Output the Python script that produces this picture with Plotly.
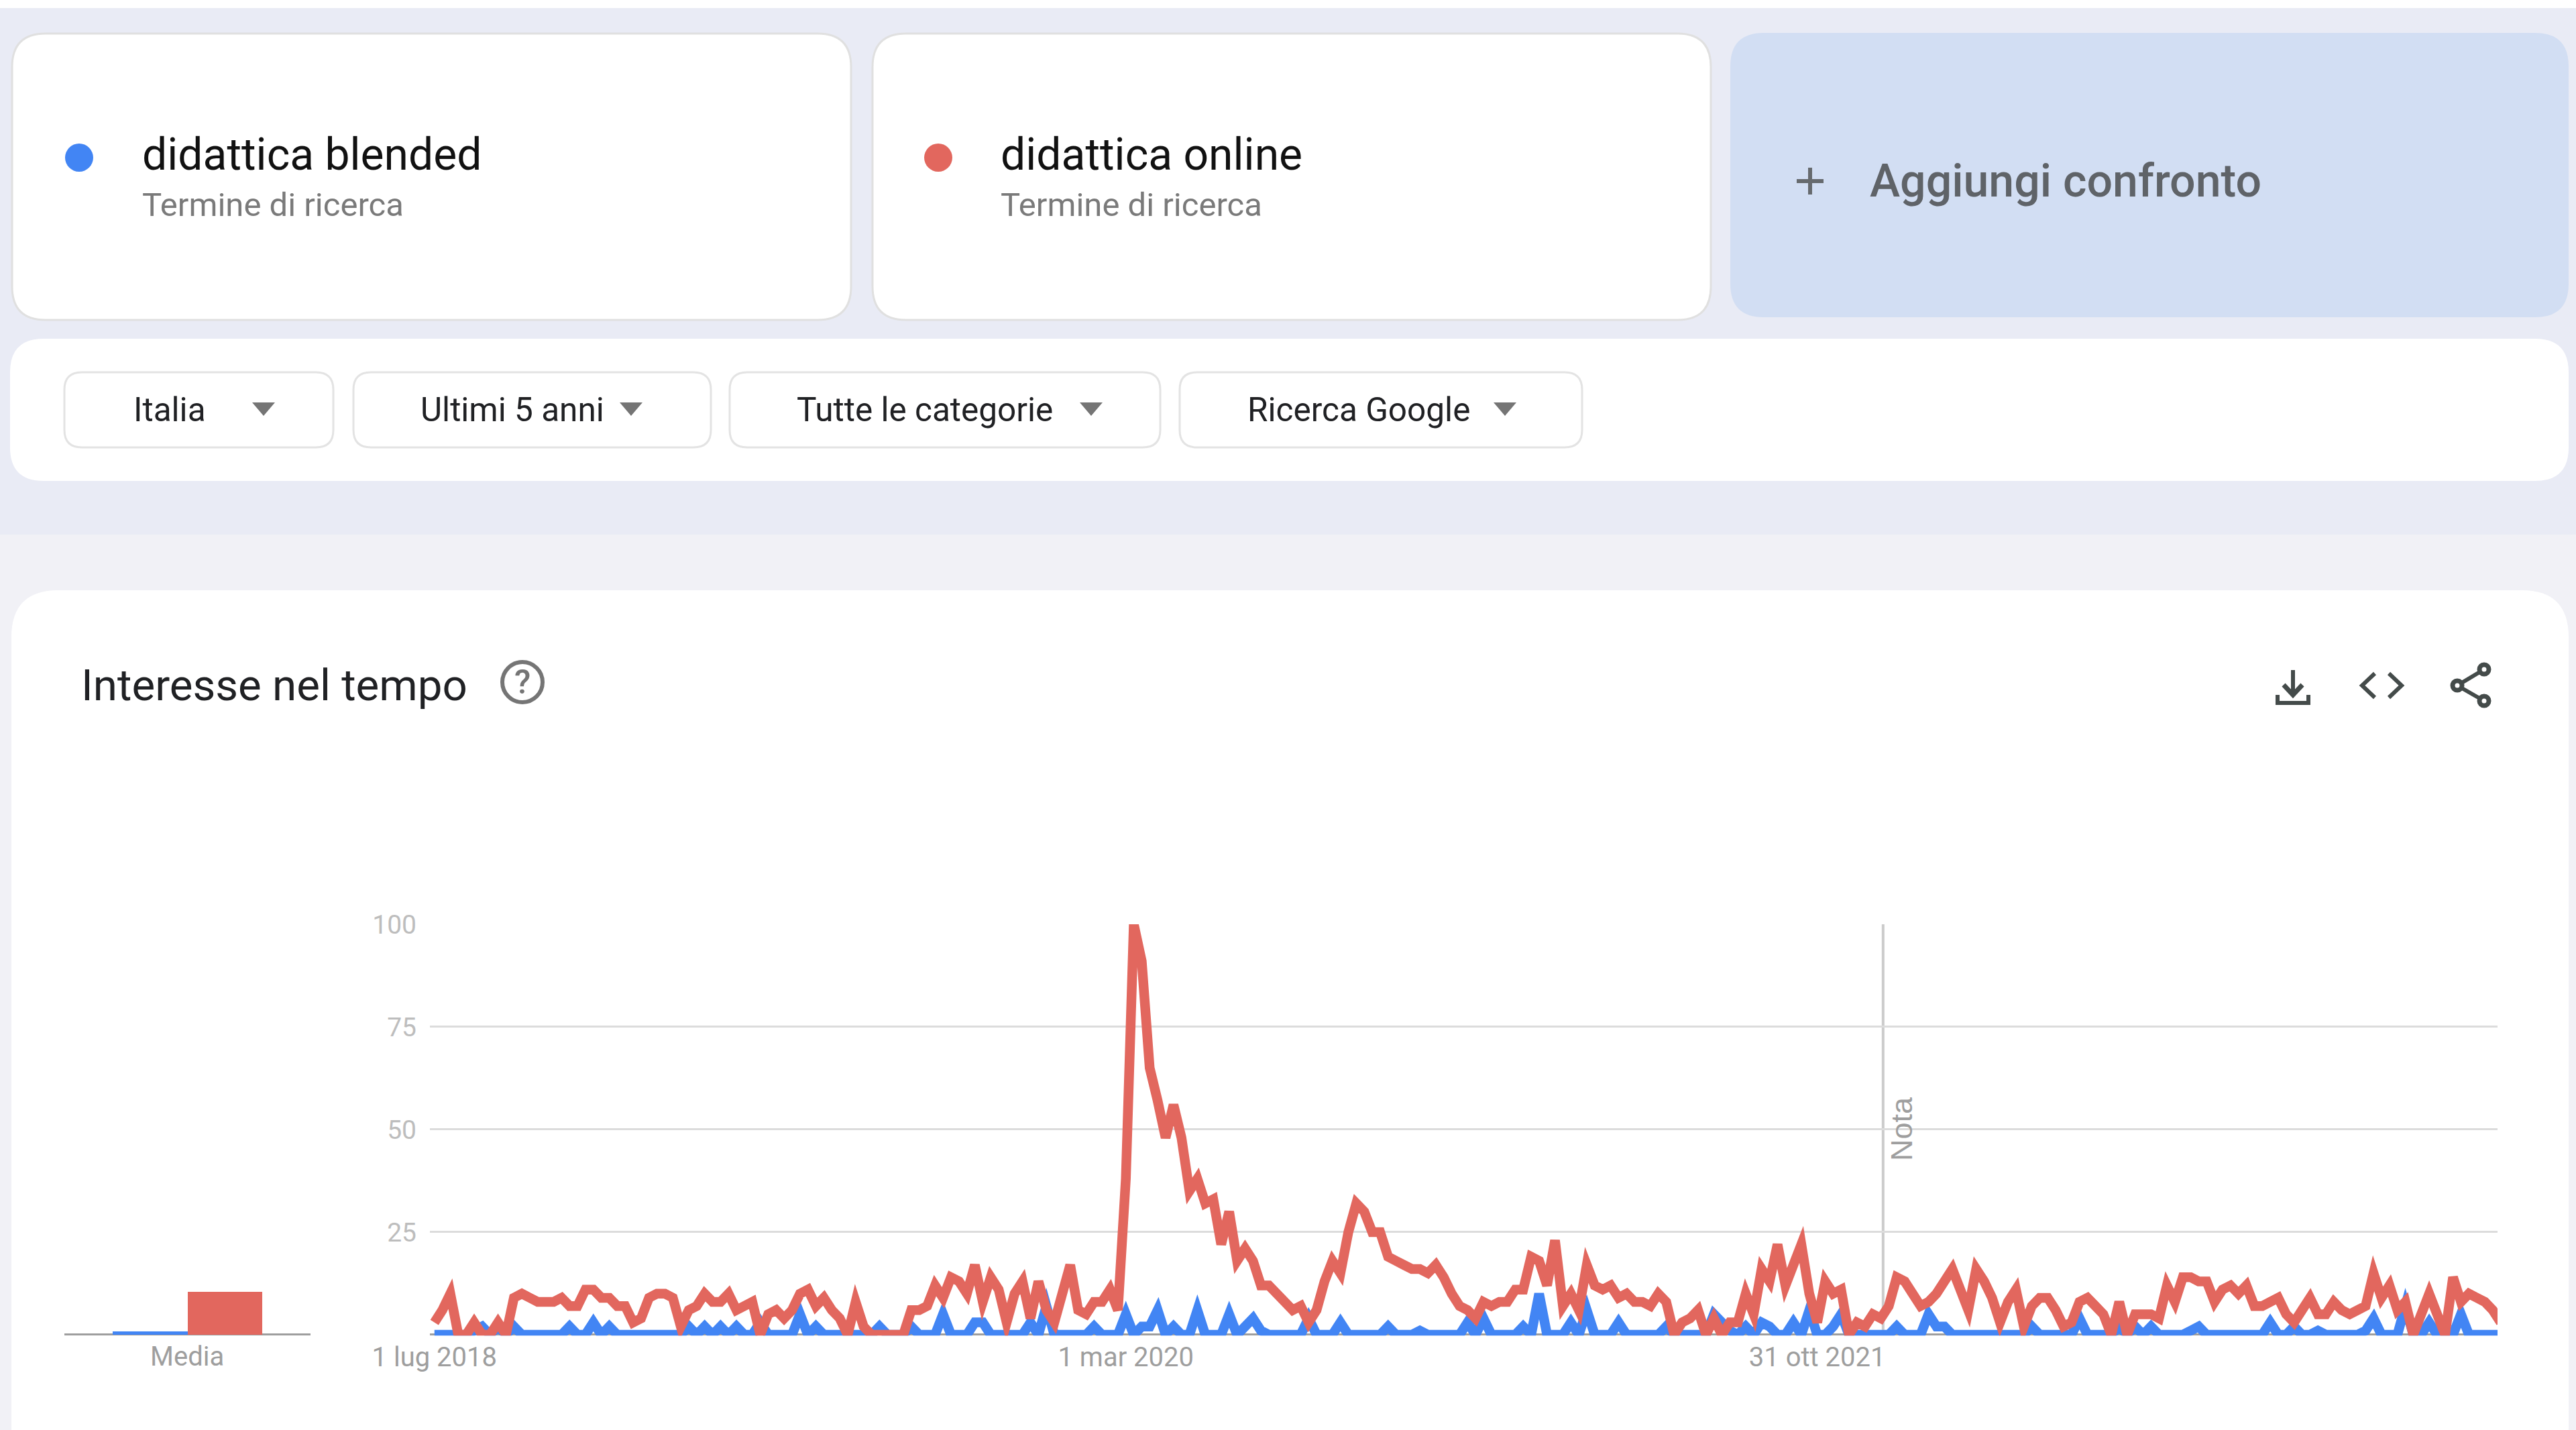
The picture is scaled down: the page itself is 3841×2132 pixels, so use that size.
import pandas as pd
import plotly.graph_objects as go

W, H = 3841, 2132

weeks = pd.date_range("2018-07-01", periods=261, freq="7D")

online = [
    3,6,10,0,0,3,0,0,3,0,
    9,10,9,8,8,8,9,7,7,11,
    11,9,9,7,7,3,4,9,10,10,
    9,2,6,7,10,8,8,10,6,7,
    8,0,5,6,4,6,10,11,7,9,
    6,4,0,8,2,0,0,0,0,0,
    6,6,7,12,9,14,13,10,17,8,
    14,11,3,10,13,4,13,6,3,10,
    17,6,5,8,8,11,6,38,100,91,
    65,57,48,56,48,35,38,32,33,22,
    30,18,21,18,12,12,10,8,6,7,
    3,6,13,18,15,25,32,30,25,25,
    19,18,17,16,16,15,17,14,10,7,
    6,4,8,7,8,8,11,11,19,18,
    12,23,7,10,6,17,12,11,12,9,
    10,8,8,7,10,8,0,3,4,6,
    0,4,0,3,3,10,5,16,13,22,
    12,17,22,10,3,13,10,11,0,3,
    2,5,4,7,14,13,10,7,8,10,
    13,16,11,6,16,13,9,3,8,11,
    2,7,9,9,6,2,3,8,9,7,
    5,0,8,0,5,5,5,4,12,8,
    14,14,13,13,8,11,12,10,12,7,
    7,8,9,5,3,6,9,5,5,8,
    6,5,6,7,15,9,12,6,8,0,
    5,10,5,0,14,8,10,9,8,6,
    3,
]
blended = [
    0,0,0,0,0,1,2,0,2,0,
    2,0,0,0,0,0,0,2,0,0,
    3,0,2,0,0,0,0,0,0,0,
    0,0,2,0,2,0,2,0,2,0,
    0,3,0,0,0,0,5,0,2,0,
    0,0,0,0,0,0,2,0,0,0,
    2,0,0,0,5,0,0,0,3,3,
    0,0,0,0,0,3,0,7,0,0,
    0,0,0,2,0,0,0,5,0,2,
    2,6,0,2,0,0,6,0,0,0,
    5,0,2,4,1,0,0,0,0,0,
    4,0,0,0,3,0,0,0,0,0,
    2,0,0,0,1,0,0,0,0,0,
    3,0,4,0,0,0,0,2,0,10,
    0,0,0,3,0,6,0,0,0,3,
    0,0,0,0,0,2,0,0,0,0,
    0,5,3,1,0,2,0,3,2,0,
    0,3,0,6,0,0,2,5,0,0,
    0,0,0,0,2,0,0,0,5,2,
    2,0,0,0,0,0,0,0,0,0,
    0,2,0,0,0,0,0,4,0,0,
    0,0,2,0,2,0,2,0,0,0,
    0,1,2,0,0,0,0,0,0,0,
    0,3,0,0,2,0,0,1,0,0,
    0,0,0,1,4,0,0,0,7,0,
    0,3,0,0,0,5,0,0,0,0,
    0,
]
mean_terms = ["didattica blended", "didattica online"]
mean_values = [0.8, 10.5]

y_ticks = [25, 50, 75, 100]
x_tick_dates = ["2018-07-01", "2020-03-01", "2021-10-31"]
x_tick_labels = ["1 lug 2018", "1 mar 2020", "31 ott 2021"]
note_date = "2021-12-28"
filter_labels = ["Italia", "Ultimi 5 anni", "Tutte le categorie", "Ricerca Google"]

BLUE = "#4285f4"
RED = "#e2675e"
LILAC = "#e9ebf5"
PALE = "#f1f1f6"
FONT = "Roboto"


def px(x):
    return x / W


def py(y):
    return 1 - y / H


def rrect(x0, y0, x1, y1, r, fill, line=None, lw=0, square_bottom=False):
    a, b, c, d = px(x0), py(y0), px(x1), py(y1)
    rx, ry = r / W, r / H
    if square_bottom:
        p = (f"M{a},{d} L{a},{b-ry} Q{a},{b} {a+rx},{b} L{c-rx},{b} Q{c},{b} {c},{b-ry} L{c},{d} Z")
    else:
        p = (f"M{a},{d+ry} L{a},{b-ry} Q{a},{b} {a+rx},{b} L{c-rx},{b} Q{c},{b} {c},{b-ry} "
             f"L{c},{d+ry} Q{c},{d} {c-rx},{d} L{a+rx},{d} Q{a},{d} {a},{d+ry} Z")
    return dict(type="path", xref="paper", yref="paper", path=p, fillcolor=fill,
                line=dict(color=line or fill, width=lw), layer="below")


def rect(x0, y0, x1, y1, fill):
    return dict(type="rect", xref="paper", yref="paper", x0=px(x0), x1=px(x1), y0=py(y0), y1=py(y1),
                fillcolor=fill, line=dict(width=0), layer="below")


def circle(cx, cy, r, fill, line=None, lw=0):
    return dict(type="circle", xref="paper", yref="paper", x0=px(cx - r), x1=px(cx + r),
                y0=py(cy + r), y1=py(cy - r), fillcolor=fill,
                line=dict(color=line or fill, width=lw), layer="above")


def poly(points, color, lw=0, fill=None, closed=False):
    s = "M" + " L".join(f"{px(x)},{py(y)}" for x, y in points) + (" Z" if closed else "")
    return dict(type="path", xref="paper", yref="paper", path=s,
                fillcolor=fill or "rgba(0,0,0,0)",
                line=dict(color=color, width=lw), layer="above")


def text(x, y, s, size, color, anchor="left", weight=400, family=FONT, angle=0):
    return dict(xref="paper", yref="paper", x=px(x), y=py(y), text=s, showarrow=False,
                xanchor=anchor, yanchor="middle", textangle=angle,
                font=dict(family=family, size=size, color=color, weight=weight))


ICON = "#444b4a"
shapes = [
    rect(0, 12, W, 797, LILAC),
    rect(0, 797, W, H, PALE),
    rrect(18, 50, 1269, 477, 50, "white", "#e0e0e0", 3),
    rrect(1301, 50, 2551, 477, 50, "white", "#e0e0e0", 3),
    rrect(2580, 49, 3830, 473, 50, "#d2def3"),
    rrect(15, 505, 3830, 717, 50, "white"),
    rrect(17, 880, 3830, H + 60, 70, "white", square_bottom=True),
    rrect(96, 555, 497, 667, 26, "white", "#e3e3e3", 3),
    rrect(527, 555, 1060, 667, 26, "white", "#e3e3e3", 3),
    rrect(1088, 555, 1730, 667, 26, "white", "#e3e3e3", 3),
    rrect(1759, 555, 2359, 667, 26, "white", "#e3e3e3", 3),
    circle(118, 235, 21, BLUE),
    circle(1399, 235, 21, RED),
    circle(779, 1017, 30, "rgba(0,0,0,0)", "#757575", 6),
    # plus sign
    poly([(2679, 270), (2719, 270)], "#666a6e", 6),
    poly([(2699, 250), (2699, 290)], "#666a6e", 6),
    # download icon
    poly([(3419, 999), (3419, 1035)], ICON, 6),
    poly([(3405, 1021), (3419, 1036), (3433, 1021)], ICON, 7),
    poly([(3396, 1036), (3396, 1048), (3442, 1048), (3442, 1036)], ICON, 6),
    # code icon
    poly([(3541, 1004), (3522, 1022), (3541, 1040)], ICON, 6),
    poly([(3562, 1004), (3581, 1022), (3562, 1040)], ICON, 6),
    # share icon
    poly([(3704, 998), (3664, 1022), (3704, 1045)], ICON, 6),
    circle(3704, 998, 7, "white", ICON, 7),
    circle(3664, 1022, 7, "white", ICON, 7),
    circle(3704, 1045, 7, "white", ICON, 7),
    # note line, drawn in the axis' own coordinates
    dict(type="line", xref="x", yref="y", x0=note_date, x1=note_date, y0=0, y1=100,
         line=dict(color="#cccccc", width=4), layer="below"),
]
for cx in (393, 941, 1627, 2244):
    shapes.append(poly([(cx - 17, 600), (cx + 17, 600), (cx, 620)], "#757575", 0, "#757575", True))

annotations = [
    text(210, 230, "didattica blended", 66, "#111111"),
    text(210, 306, "Termine di ricerca", 49, "#7a7a7a"),
    text(1490, 230, "didattica online", 66, "#111111"),
    text(1490, 306, "Termine di ricerca", 49, "#7a7a7a"),
    text(2786, 270, "Aggiungi confronto", 68, "#5f6368", weight=500),
    text(119, 1021, "Interesse nel tempo", 65.5, "#202124"),
    text(779, 1017, "?", 50, "#757575", anchor="center", weight=500),
    text(2835, 1683, "Nota", 45, "#9e9e9e", anchor="center", family="Liberation Sans", angle=-90),
    text(279, 2023, "Media", 40, "#9e9e9e", anchor="center"),
]
for label, x in zip(filter_labels, (197, 625, 1186, 1858)):
    annotations.append(text(x, 611, label, 49.5, "#202124"))

fig = go.Figure()
fig.add_trace(go.Scatter(x=weeks, y=blended, mode="lines", name=mean_terms[0],
                         line=dict(color=BLUE, width=14.5, simplify=False), hoverinfo="skip"))
fig.add_trace(go.Scatter(x=weeks, y=online, mode="lines", name=mean_terms[1],
                         line=dict(color=RED, width=14.5, simplify=False), hoverinfo="skip"))
fig.add_trace(go.Bar(x=mean_terms, y=mean_values, marker=dict(color=[BLUE, RED], line=dict(width=0)),
                     width=1, xaxis="x2", yaxis="y2", hoverinfo="skip"))

fig.update_layout(
    template=None,
    width=W, height=H, margin=dict(l=0, r=0, t=0, b=0, pad=0), autosize=False,
    paper_bgcolor="white", plot_bgcolor="rgba(0,0,0,0)", showlegend=False,
    shapes=shapes, annotations=annotations, bargap=0,
    xaxis=dict(domain=[px(641), px(3724)], range=["2018-06-27", "2023-06-22 05:00"], type="date",
               automargin=False,
               showgrid=False, zeroline=False, showline=False, ticks="",
               tickmode="array", tickvals=x_tick_dates, ticktext=x_tick_labels,
               ticklabelstandoff=5,
               tickfont=dict(family=FONT, size=40, color="#9e9e9e")),
    yaxis=dict(domain=[py(1991.2), py(1378)], range=[-0.2, 100], showgrid=True, automargin=False,
               gridcolor="#dcdcdc", gridwidth=3, zeroline=True, zerolinecolor="#9e9e9e", zerolinewidth=3,
               showline=False, ticks="", tickmode="array", tickvals=y_ticks,
               ticklabelstandoff=19,
               tickfont=dict(family=FONT, size=39, color="#bdbdbd")),
    xaxis2=dict(domain=[px(96), px(463)], range=[-1.14, 2.14], type="category", automargin=False,
                showticklabels=False, showgrid=False, zeroline=False, ticks="", anchor="y2",
                categoryorder="array", categoryarray=mean_terms),
    yaxis2=dict(domain=[py(1991.2), py(1378)], range=[-0.2, 100], showgrid=False, zeroline=True, automargin=False,
                zerolinecolor="#9e9e9e", zerolinewidth=3, showticklabels=False, ticks="", anchor="x2"),
)

post = """
document.body.style.margin='0';
document.body.style.overflow='hidden';
var st=document.createElement('style');
st.textContent='.js-line{stroke-miterlimit:4!important}';
document.head.appendChild(st);
"""
fig.write_html("out.html", post_script=post, config=dict(displayModeBar=False, staticPlot=True))
